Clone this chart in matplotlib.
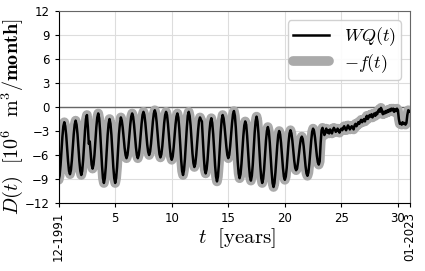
import numpy as np
import matplotlib
matplotlib.use('Agg')
import matplotlib.pyplot as plt

plt.rcParams['mathtext.fontset'] = 'cm'

# monthly values, one row per year, starting 12-1991 (t = 0)
d_rows = [
    [-9.1, -8.6, -7.3, -5.5, -3.7, -2.4, -1.9, -2.4, -3.5, -5.2, -6.8, -8.0],
    [-8.4, -7.9, -6.7, -5.1, -3.4, -2.2, -1.7, -2.2, -3.4, -5.1, -6.8, -8.0],
    [-8.5, -8.0, -6.6, -4.8, -2.9, -1.5, -1.0, -2.5, -4.6, -4.3, -5.8, -7.2],
    [-7.7, -7.2, -6.0, -4.3, -2.5, -1.3, -0.8, -1.4, -3.0, -5.1, -7.3, -8.9],
    [-9.5, -8.9, -7.5, -5.5, -3.5, -2.1, -1.5, -2.1, -3.5, -5.5, -7.5, -8.9],
    [-9.5, -8.9, -7.5, -5.4, -3.4, -2.1, -1.3, -1.7, -2.6, -3.9, -5.1, -6.0],
    [-6.4, -6.0, -5.0, -3.6, -2.2, -1.2, -0.8, -1.2, -2.2, -3.6, -5.0, -6.0],
    [-6.4, -6.0, -5.0, -3.5, -2.1, -1.0, -0.6, -1.0, -2.0, -3.3, -4.7, -5.6],
    [-6.0, -5.6, -4.6, -3.2, -1.8, -0.8, -0.4, -0.8, -1.9, -3.4, -4.8, -5.9],
    [-6.3, -5.9, -4.9, -3.5, -2.0, -1.0, -0.6, -1.0, -2.1, -3.6, -5.1, -6.2],
    [-6.6, -6.2, -5.1, -3.7, -2.2, -1.2, -0.8, -1.3, -2.7, -4.6, -6.6, -8.0],
    [-8.5, -7.9, -6.5, -4.5, -2.6, -1.1, -0.6, -1.1, -2.3, -4.0, -5.8, -7.0],
    [-7.5, -7.1, -6.0, -4.4, -2.9, -1.7, -1.3, -1.6, -1.8, -4.0, -6.2, -7.8],
    [-8.3, -7.8, -6.6, -4.9, -3.1, -1.9, -1.4, -2.0, -3.4, -5.3, -7.3, -8.7],
    [-9.3, -8.7, -7.2, -5.2, -3.1, -1.6, -1.0, -1.4, -2.4, -3.7, -5.0, -6.0],
    [-6.4, -6.0, -4.9, -3.5, -2.0, -0.9, -0.5, -1.1, -2.6, -4.7, -6.8, -8.3],
    [-8.9, -8.4, -7.1, -5.3, -3.6, -2.3, -1.8, -2.2, -3.6, -5.5, -7.4, -8.7],
    [-9.2, -8.6, -7.2, -5.2, -3.2, -1.8, -1.2, -1.8, -3.3, -5.3, -7.4, -8.9],
    [-9.5, -9.0, -7.8, -6.0, -4.2, -3.0, -2.5, -3.0, -4.4, -6.2, -8.1, -9.5],
    [-10.0, -9.5, -8.2, -6.5, -4.8, -3.5, -3.0, -3.4, -4.5, -6.0, -7.6, -8.7],
    [-9.1, -8.7, -7.6, -6.0, -4.4, -3.3, -2.9, -3.3, -4.2, -5.4, -6.7, -7.6],
    [-7.9, -7.7, -6.9, -5.8, -4.8, -4.0, -3.7, -4.0, -4.9, -6.2, -7.4, -8.3],
    [-8.6, -8.2, -7.1, -5.6, -4.2, -3.1, -2.7, -3.0, -3.8, -5.0, -6.1, -6.9],
    [-7.2, -6.8, -4.5, -2.9, -2.6, -3.0, -3.5, -3.1, -2.7, -3.2, -2.9, -3.3],
    [-2.8, -3.0, -3.3, -2.9, -2.6, -2.8, -3.1, -3.0, -2.7, -2.9, -3.2, -2.9],
    [-2.7, -2.9, -2.6, -2.4, -2.7, -2.9, -2.6, -2.3, -2.5, -2.8, -2.6, -2.4],
    [-2.6, -2.8, -2.3, -2.1, -2.4, -2.2, -1.9, -2.1, -1.8, -1.6, -1.9, -1.7],
    [-1.5, -1.8, -1.4, -1.1, -1.5, -1.3, -1.0, -1.2, -0.9, -1.3, -1.0, -0.8],
    [-1.1, -0.7, -0.9, -0.5, -0.3, -0.6, -0.1, -0.4, -0.9, -0.6, -0.8, -0.5],
    [-0.7, -0.4, -0.6, -0.3, -0.5, -0.2, -0.4, -0.2, -0.6, -0.3, -0.5, -0.2],
    [-0.4, -1.5, -2.1, -2.0, -2.2, -1.9, -2.1, -2.0, -2.2, -2.0, -1.0, -0.4],
    [-0.6, -0.5],
]

wq = np.concatenate([np.array(r) for r in d_rows])
f_neg = wq.copy()
t = np.arange(len(wq)) / 12.0

t_end = 31.08
xticks = [0, 5, 10, 15, 20, 25, 30, t_end]
xlabels = ['12-1991', '5', '10', '15', '20', '25', '30', '01-2023']
yticks = [-12, -9, -6, -3, 0, 3, 6, 9, 12]

fig = plt.figure(figsize=(4.25, 2.71), dpi=100)
ax = fig.add_axes([0.138, 0.251, 0.827, 0.708])

ax.grid(True, color='#dddddd', linewidth=0.8)
ax.axhline(0, color='#666666', linewidth=1.0, zorder=1.6)
ax.plot(t, f_neg, color='#aaaaaa', linewidth=7, label=r'$-f(t)$', zorder=2, solid_capstyle='round')
ax.plot(t, wq, color='black', linewidth=1.8, label=r'$WQ(t)$', zorder=3)

ax.set_xlim(0, t_end)
ax.set_ylim(-12, 12)
ax.set_yticks(yticks)
ax.set_xticks(xticks)
ax.set_xticklabels(xlabels)
labs = ax.get_xticklabels()
labs[0].set_rotation(90)
labs[-1].set_rotation(90)
ax.tick_params(labelsize=8.5, length=3)

for s in ['top', 'right']:
    ax.spines[s].set_color('#666666')

ax.set_xlabel(r'$t\ \ [\mathrm{years}]$', fontsize=15)
ax.xaxis.set_label_coords(0.508, -0.12)
ax.set_ylabel(r'$D(t)\ \ [10^6\ \ \mathrm{m}^3/\mathbf{month}]$', fontsize=14.5)
ax.yaxis.set_label_coords(-0.097, 0.45)

h, l = ax.get_legend_handles_labels()
ax.legend([h[1], h[0]], [l[1], l[0]], loc='upper right', fontsize=13,
          handlelength=2.0, framealpha=0.9, borderpad=0.3, labelspacing=0.2)

fig.savefig('out.png', dpi=100)
